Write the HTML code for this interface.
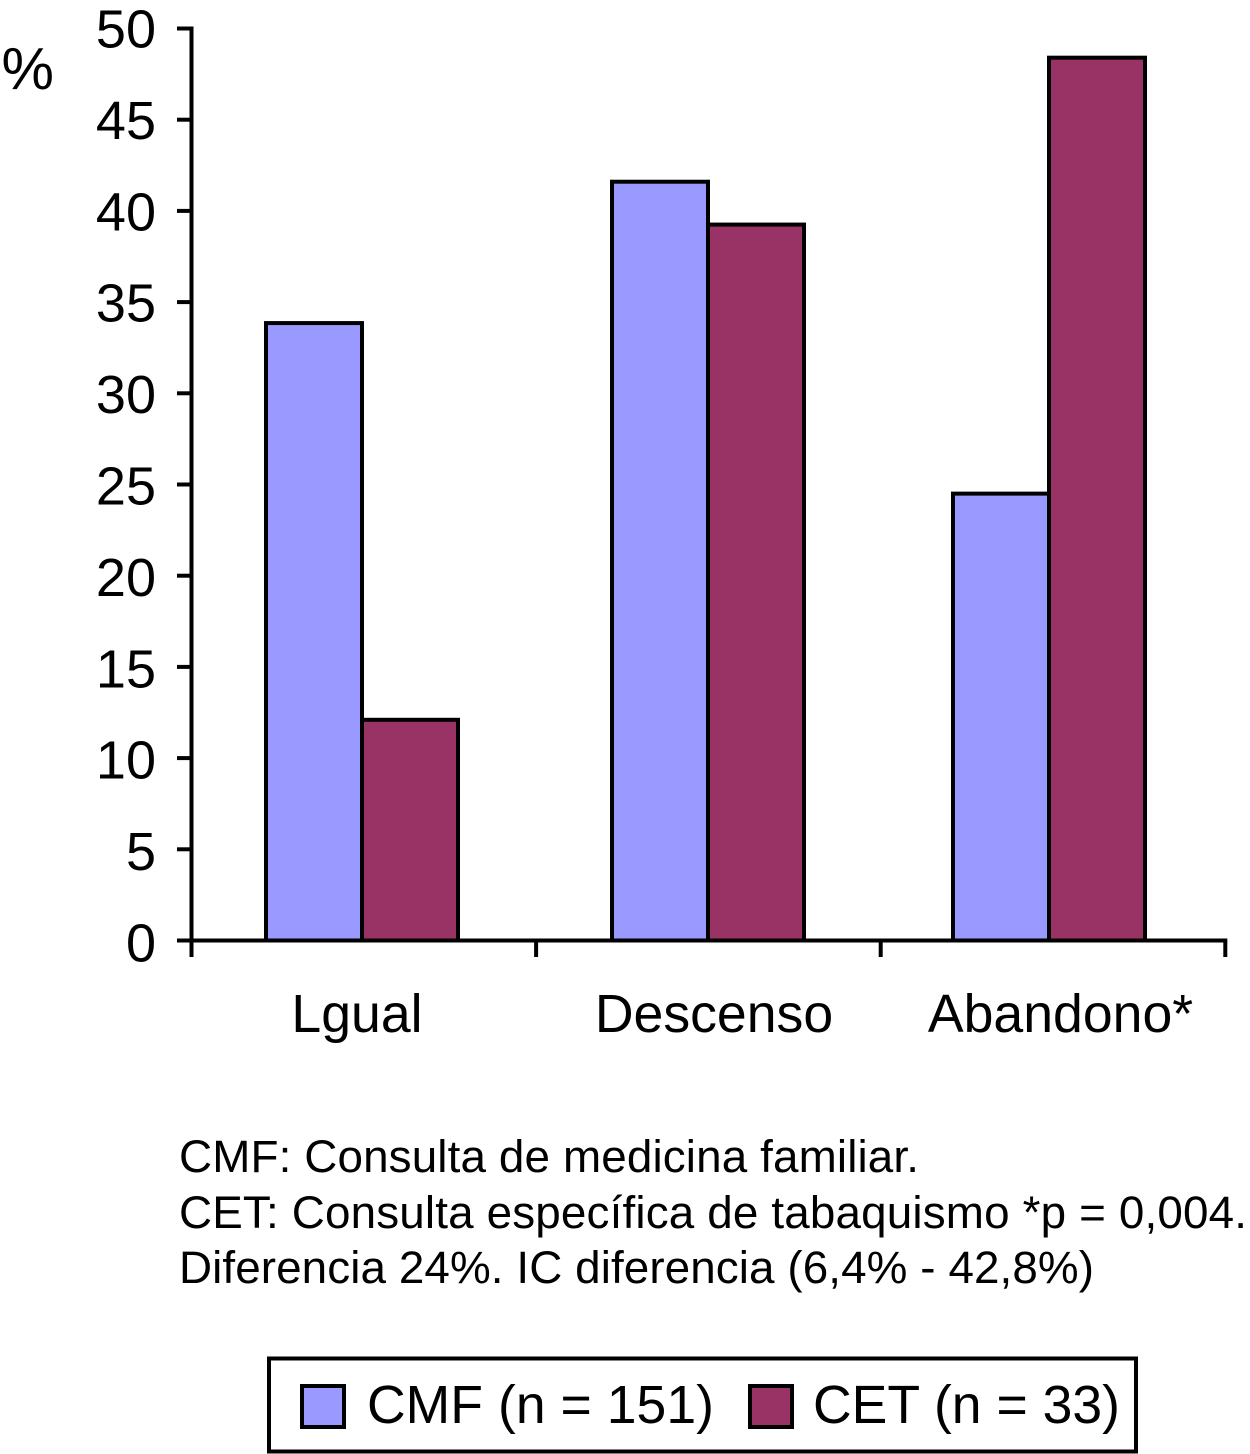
<!DOCTYPE html>
<html lang="es">
<head>
<meta charset="utf-8">
<title>CMF vs CET</title>
<style>
html,body{margin:0;padding:0;background:#fff;}
svg{display:block;}
text{font-family:"Liberation Sans",Arial,sans-serif;fill:#000;}
.tick{font-size:54px;}
.cat{font-size:53.6px;}
.note{font-size:45.8px;}
.leg{font-size:53.5px;}
</style>
</head>
<body>
<svg id="chart" width="1250" height="1454" viewBox="0 0 1250 1454" xmlns="http://www.w3.org/2000/svg">
  <rect x="0" y="0" width="1250" height="1454" fill="#fff"/>
  <text x="1.5" y="89" style="font-size:59px">%</text>
  <g id="plot"></g>
  <g>
    <text class="note" x="179" y="1172" textLength="740" lengthAdjust="spacing">CMF: Consulta de medicina familiar.</text>
    <text class="note" x="179" y="1228" textLength="1068" lengthAdjust="spacing">CET: Consulta específica de tabaquismo *p = 0,004.</text>
    <text class="note" x="179" y="1283" textLength="915" lengthAdjust="spacing">Diferencia 24%. IC diferencia (6,4% - 42,8%)</text>
  </g>
  <g>
    <rect x="269" y="1358.5" width="867" height="93" fill="#fff" stroke="#000" stroke-width="4"/>
    <rect x="302" y="1386" width="42" height="41" fill="#9999ff" stroke="#000" stroke-width="4"/>
    <text class="leg" x="367" y="1423" textLength="347" lengthAdjust="spacing">CMF (n = 151)</text>
    <rect x="750" y="1386" width="42" height="41" fill="#993366" stroke="#000" stroke-width="4"/>
    <text class="leg" x="813" y="1423" textLength="307" lengthAdjust="spacing">CET (n = 33)</text>
  </g>
</svg>
<script>
const categories = ["Lgual", "Descenso", "Abandono*"];
const cmfValues = [33.85, 41.6, 24.5];
const cetValues = [12.1, 39.25, 48.4];
const yTickLabels = [0, 5, 10, 15, 20, 25, 30, 35, 40, 45, 50];

const SVG_NS = "http://www.w3.org/2000/svg";
const plot = document.getElementById("plot");

function yScale(v) {
  return 940.5 - v * 18.24;
}
function yLabelBaseline(v) {
  return 961.5 - v * 18.28;
}
function xBoundary(i) {
  return 191.5 + i * 344.6;
}
function xBand(i) {
  return (xBoundary(i) + xBoundary(i + 1)) / 2;
}
function xCenter(i) {
  // Category band centre, with the small optical offsets of the original layout.
  const offset = i === 0 ? -1.8 : i === 1 ? -0.4 : -4;
  return xBand(i) + offset;
}
function xLabel(i) {
  const offset = i === 0 ? -6.8 : i === 1 ? 5.6 : 7.5;
  return xBand(i) + offset;
}
const barWidth = 96;

function line(x1, y1, x2, y2) {
  const el = document.createElementNS(SVG_NS, "line");
  el.setAttribute("x1", x1);
  el.setAttribute("y1", y1);
  el.setAttribute("x2", x2);
  el.setAttribute("y2", y2);
  el.setAttribute("stroke", "#000");
  el.setAttribute("stroke-width", "4");
  return el;
}
function bar(x, value, fill) {
  const el = document.createElementNS(SVG_NS, "rect");
  el.setAttribute("x", x);
  el.setAttribute("y", yScale(value));
  el.setAttribute("width", barWidth);
  el.setAttribute("height", yScale(0) - yScale(value));
  el.setAttribute("fill", fill);
  el.setAttribute("stroke", "#000");
  el.setAttribute("stroke-width", "4");
  return el;
}

categories.forEach(function (name, i) {
  const center = xCenter(i);

  const cmf = bar(center - barWidth, cmfValues[i], "#9999ff");
  
  
  plot.appendChild(cmf);

  const cet = bar(center, cetValues[i], "#993366");
  
  
  plot.appendChild(cet);

  const label = document.createElementNS(SVG_NS, "text");
  
  
  label.setAttribute("class", "cat");
  label.setAttribute("x", xLabel(i));
  label.setAttribute("y", 1032);
  label.setAttribute("text-anchor", "middle");
  label.textContent = name;
  plot.appendChild(label);
});

const yAxis = line(xBoundary(0), yScale(50) - 2, xBoundary(0), 957);


plot.appendChild(yAxis);

const xAxis = line(177, yScale(0), xBoundary(categories.length) + 2, yScale(0));


plot.appendChild(xAxis);

yTickLabels.forEach(function (t) {
  const tick = line(177, yScale(t), xBoundary(0), yScale(t));
  
  
  plot.appendChild(tick);

  const label = document.createElementNS(SVG_NS, "text");
  
  
  label.setAttribute("class", "tick");
  label.setAttribute("x", 156);
  label.setAttribute("y", yLabelBaseline(t));
  label.setAttribute("text-anchor", "end");
  label.textContent = t;
  plot.appendChild(label);
});

for (let i = 1; i <= categories.length; i++) {
  const tick = line(xBoundary(i), yScale(0), xBoundary(i), 957);
  
  
  plot.appendChild(tick);
}
</script>
</body>
</html>
